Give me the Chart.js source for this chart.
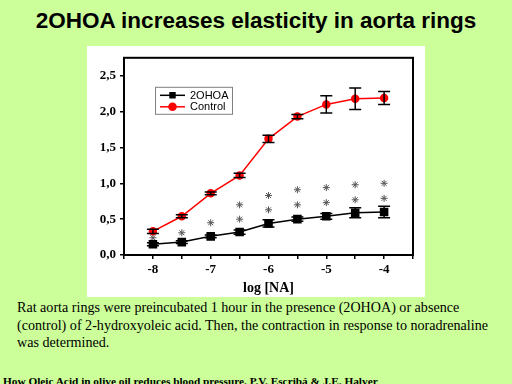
<!DOCTYPE html>
<html>
<head>
<meta charset="utf-8">
<script src="https://cdn.jsdelivr.net/npm/chart.js@4.4.1/dist/chart.umd.min.js"></script>
<style>
  html, body { margin: 0; padding: 0; }
  body {
    width: 512px; height: 384px; overflow: hidden; position: relative;
    background: #ccff99;
  }
  #title {
    position: absolute; left: 0; top: 8px; width: 512px; text-align: center;
    font: bold 22.5px "Liberation Sans", Arial, sans-serif; color: #000;
  }
  #panel {
    position: absolute; left: 87px; top: 46px; width: 338px; height: 251px;
    background: #fff;
  }
  #caption {
    position: absolute; left: 17px; top: 299px; white-space: nowrap;
    font: 14.1px "Liberation Serif", "Times New Roman", serif; line-height: 17.5px; color: #000;
  }
  #source {
    position: absolute; left: 3px; top: 375px; white-space: nowrap;
    font: bold 11.3px "Liberation Serif", "Times New Roman", serif; color: #000;
  }
</style>
</head>
<body>
<div id="title">2OHOA increases elasticity in aorta rings</div>
<div id="panel"><canvas id="chart" width="338" height="251"></canvas></div>
<div id="caption">Rat aorta rings were preincubated 1 hour in the presence (2OHOA) or absence<br>(control) of 2-hydroxyoleic acid. Then, the contraction in response to noradrenaline<br>was determined.</div>
<div id="source">How Oleic Acid in olive oil reduces blood pressure. P.V. Escribá &amp; J.E. Halver</div>
<script>
// log [NA] puntos
const xValues = [-8, -7.5, -7, -6.5, -6, -5.5, -5, -4.5, -4];
const control = [0.33, 0.54, 0.86, 1.11, 1.62, 1.93, 2.10, 2.18, 2.19];
const controlErr = [0.03, 0.02, 0.02, 0.03, 0.05, 0.03, 0.12, 0.15, 0.09];
const ohoa = [0.15, 0.18, 0.26, 0.32, 0.44, 0.50, 0.54, 0.59, 0.60];
const ohoaErr = [0.02, 0.02, 0.02, 0.03, 0.05, 0.03, 0.04, 0.07, 0.08];
// asteriscos de significación
const starsLow = [0.24, 0.31, 0.45, 0.50, 0.63, 0.70, 0.73, 0.77, 0.79];
const starsHigh = [null, null, null, 0.70, 0.83, 0.91, 0.94, 0.98, 1.00];

const toPoints = arr => arr.map((v, i) => ({ x: xValues[i], y: v })).filter(p => p.y !== null);

const tickFont = { family: "'Liberation Serif', 'Times New Roman', serif", size: 13, weight: "bold" };

const errorBars = {
  id: "errorBars",
  afterDatasetsDraw(chart) {
    const { ctx, scales: { x, y } } = chart;
    const sets = [[ohoa, ohoaErr], [control, controlErr]];
    ctx.save();
    ctx.strokeStyle = "#000";
    ctx.lineWidth = 1.5;
    sets.forEach(([vals, errs]) => {
      vals.forEach((v, i) => {
        const px = x.getPixelForValue(xValues[i]);
        const top = y.getPixelForValue(v + errs[i]);
        const bot = y.getPixelForValue(v - errs[i]);
        ctx.beginPath();
        ctx.moveTo(px, top); ctx.lineTo(px, bot);
        ctx.moveTo(px - 6, top); ctx.lineTo(px + 6, top);
        ctx.moveTo(px - 6, bot); ctx.lineTo(px + 6, bot);
        ctx.stroke();
      });
    });
    ctx.restore();
  }
};

const frameAndLegend = {
  id: "frameAndLegend",
  afterDraw(chart) {
    const { ctx, chartArea: a } = chart;
    ctx.save();
    ctx.strokeStyle = "#000";
    ctx.lineWidth = 2;
    ctx.strokeRect(a.left, a.top, a.right - a.left, a.bottom - a.top);

    // leyenda
    const lx = a.left + 31, ly = a.top + 29;
    ctx.lineWidth = 1;
    ctx.strokeStyle = "#808080";
    ctx.strokeRect(lx + 0.5, ly + 0.5, 77, 27);
    ctx.font = "11px 'Liberation Sans', Arial, sans-serif";
    ctx.textBaseline = "middle";
    chart.data.datasets.slice(0, 2).forEach((ds, i) => {
      const cy = ly + 8.5 + i * 11.5;
      ctx.strokeStyle = ds.borderColor;
      ctx.lineWidth = 1.5;
      ctx.beginPath();
      ctx.moveTo(lx + 5, cy); ctx.lineTo(lx + 30, cy);
      ctx.stroke();
      Chart.helpers.drawPoint(ctx, { pointStyle: ds.pointStyle, radius: 3.5, borderWidth: 1 }, lx + 17.5, cy);
      ctx.fillStyle = ds.pointBackgroundColor;
      ctx.fill();
      ctx.fillStyle = "#000";
      ctx.fillText(ds.label, lx + 35, cy + 0.5);
    });
    ctx.restore();
  }
};

new Chart(document.getElementById("chart"), {
  type: "scatter",
  data: {
    datasets: [
      {
        label: "2OHOA",
        data: toPoints(ohoa),
        showLine: true,
        borderColor: "#000",
        borderWidth: 1.5,
        pointStyle: "rect",
        pointRadius: 5,
        pointBackgroundColor: "#000",
        pointBorderColor: "#000"
      },
      {
        label: "Control",
        data: toPoints(control),
        showLine: true,
        borderColor: "#ff0000",
        borderWidth: 1.5,
        pointStyle: "circle",
        pointRadius: 3.5,
        pointBackgroundColor: "#ff0000",
        pointBorderColor: "#ff0000"
      },
      {
        label: "stars",
        data: toPoints(starsLow).concat(toPoints(starsHigh)),
        pointStyle: "star",
        pointRadius: 3.5,
        borderColor: "#555",
        pointBorderWidth: 1,
        backgroundColor: "#555"
      }
    ]
  },
  options: {
    responsive: false,
    animation: false,
    layout: { padding: { top: 8, right: 12, left: 0, bottom: 0 } },
    plugins: { legend: { display: false }, tooltip: { enabled: false } },
    scales: {
      x: {
        type: "linear",
        min: -8.5,
        max: -3.5,
        afterFit: s => { s.height = 42; },
        border: { color: "#000", width: 2 },
        grid: { drawOnChartArea: false, drawTicks: true, tickLength: 4, color: "#000", lineWidth: 1.5 },
        ticks: {
          stepSize: 0.5,
          padding: 3,
          color: "#000",
          font: tickFont,
          maxRotation: 0,
          autoSkip: false,
          callback: v => (Number.isInteger(v) && v > -8.5 && v < -3.5 ? String(v) : "")
        },
        title: {
          display: true,
          text: "log [NA]",
          color: "#000",
          font: { family: "'Liberation Serif', 'Times New Roman', serif", size: 14, weight: "bold" },
          padding: { top: 0, bottom: 0 }
        }
      },
      y: {
        min: 0,
        max: 2.75,
        afterFit: s => { s.width = 37; },
        afterBuildTicks: s => { s.ticks = s.ticks.filter(t => Math.abs(t.value * 2 - Math.round(t.value * 2)) < 1e-6); },
        border: { color: "#000", width: 2 },
        grid: { drawOnChartArea: false, drawTicks: true, tickLength: 4, color: "#000", lineWidth: 1.5 },
        ticks: {
          stepSize: 0.5,
          padding: 4,
          color: "#000",
          font: tickFont,
          callback: v => v.toFixed(1).replace(".", ",")
        }
      }
    }
  },
  plugins: [errorBars, frameAndLegend]
});
</script>
</body>
</html>
